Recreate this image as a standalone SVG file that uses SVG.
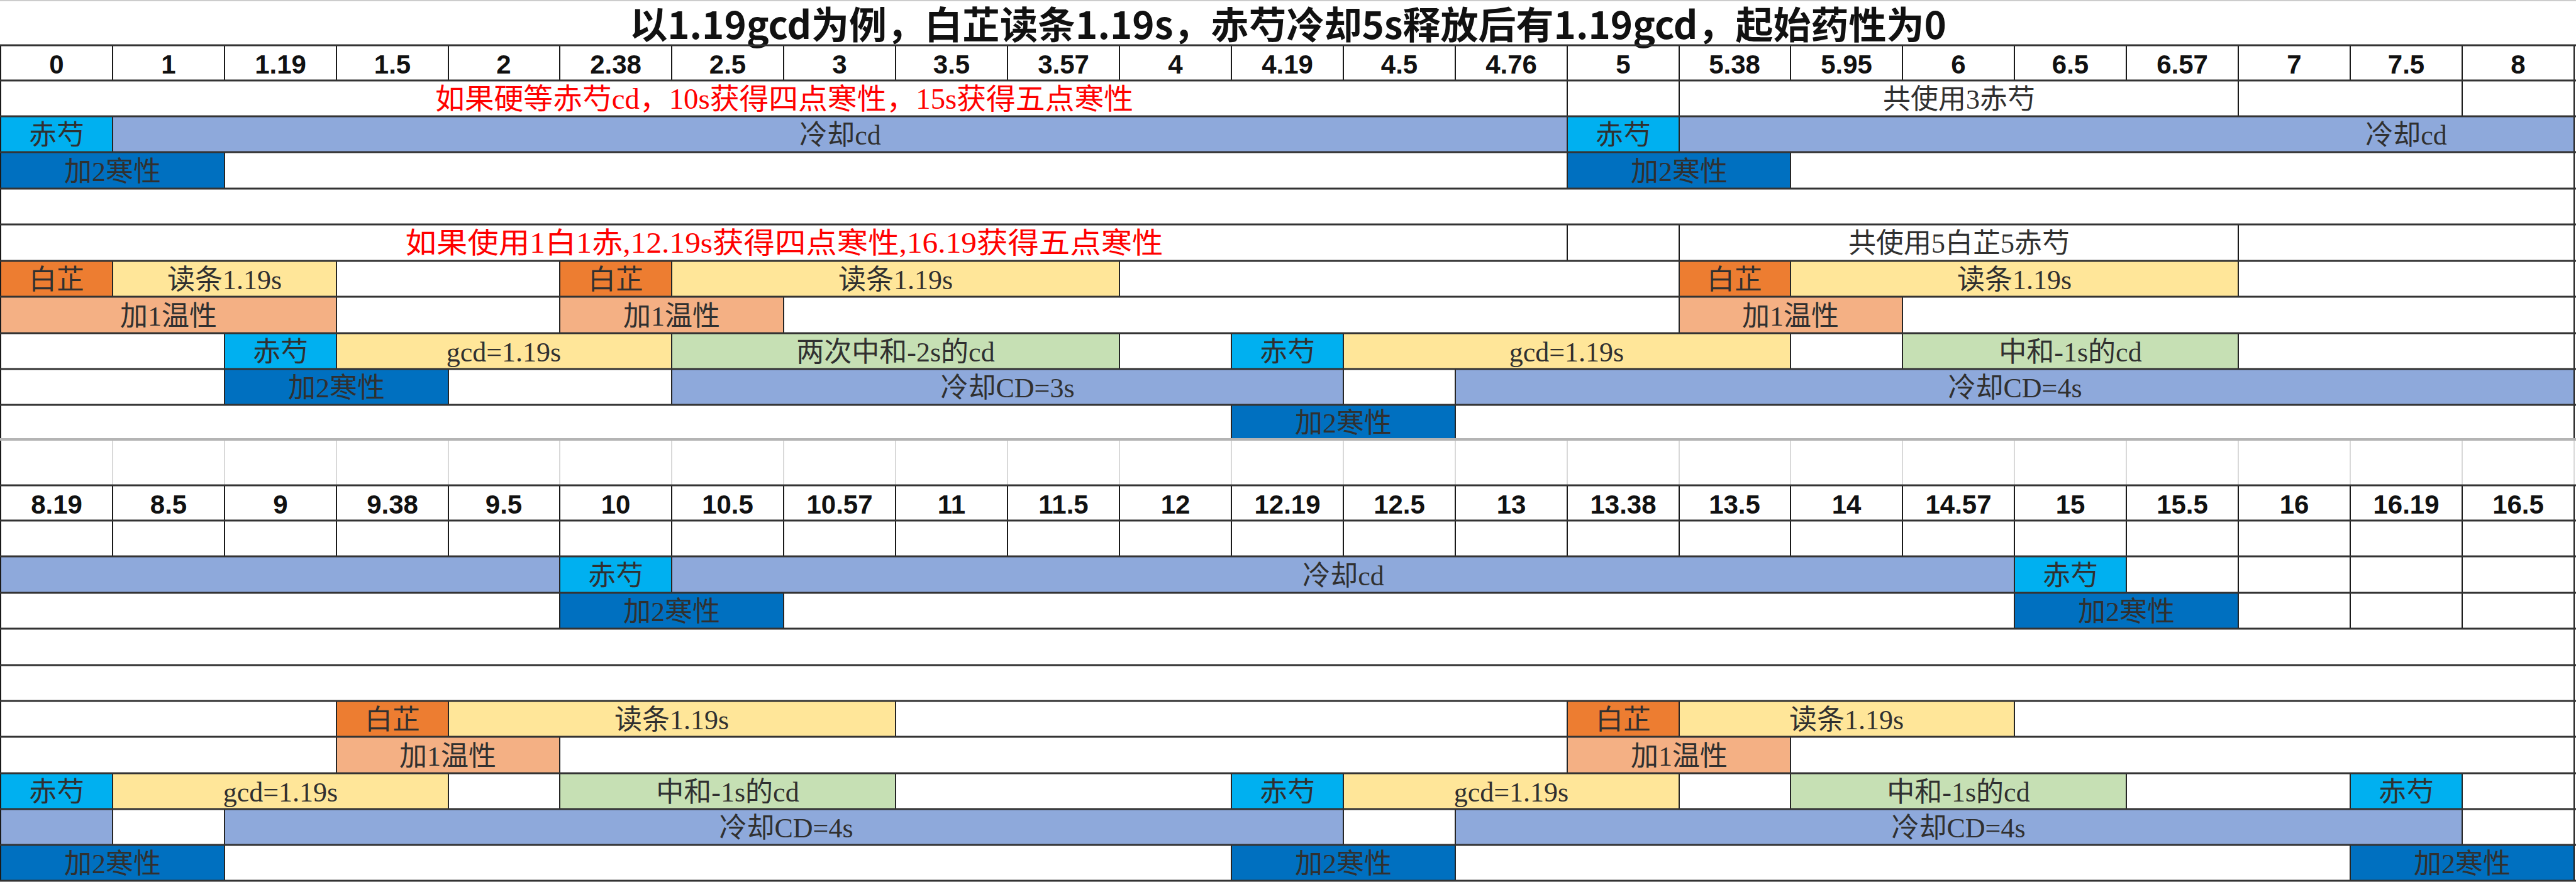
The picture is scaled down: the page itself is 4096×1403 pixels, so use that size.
<svg xmlns="http://www.w3.org/2000/svg" width="4096" height="1403" viewBox="0 0 4096 1403">
<style>
.bg{fill:#FFFFFF}
.c{stroke:#262626;stroke-width:2}
.cy{fill:#00B0F0}.lb{fill:#8EA9DB}.db{fill:#0070C0}.or{fill:#ED7D31}.ye{fill:#FFE699}.sa{fill:#F4B084}.gr{fill:#C6E0B4}
.t{font-family:"Liberation Serif","Noto Sans CJK SC",serif;font-size:44px;fill:#303030;text-anchor:middle}
.h{font-family:"Liberation Sans","Noto Sans CJK SC",sans-serif;font-size:42px;font-weight:bold;fill:#111;text-anchor:middle}
.r{font-family:"Liberation Serif","Noto Sans CJK SC",serif;font-size:46px;fill:#FF0000;text-anchor:middle}
.ti{font-family:"Noto Sans CJK SC","Liberation Sans",sans-serif;font-size:60px;font-weight:bold;fill:#111;text-anchor:middle}
.hl{stroke:#333;stroke-width:3}
.vl{stroke:#1a1a1a;stroke-width:2}
.gl{stroke:#D9D9D9;stroke-width:2}
</style>
<rect class="bg" x="0" y="0" width="4096" height="1403"/>
<line x1="0" y1="1" x2="4096" y2="1" stroke="#CCCCCC" stroke-width="2"/>
<g id="title"><text class="ti" x="2048" y="62">以1.19gcd为例，白芷读条1.19s，赤芍冷却5s释放后有1.19gcd，起始药性为0</text></g>

<!-- ===== TOP SECTION cells ===== -->
<g id="top-r3">
<rect class="c cy" x="1" y="185" width="178" height="57"/><text class="t" x="90" y="230">赤芍</text>
<rect class="c lb" x="179" y="185" width="2313" height="57"/><text class="t" x="1336" y="230">冷却cd</text>
<rect class="c cy" x="2492" y="185" width="178" height="57"/><text class="t" x="2581" y="230">赤芍</text>
<rect class="c lb" x="2670" y="185" width="1423" height="57"/><text class="t" x="3826" y="230">冷却cd</text>
</g>
<g id="top-r4">
<rect class="c db" x="1" y="242" width="356" height="58"/><text class="t" x="179" y="288">加2寒性</text>
<rect class="c db" x="2492" y="242" width="355" height="58"/><text class="t" x="2670" y="288">加2寒性</text>
</g>
<g id="top-r7">
<rect class="c or" x="1" y="415" width="178" height="57"/><text class="t" x="90" y="460">白芷</text>
<rect class="c ye" x="179" y="415" width="356" height="57"/><text class="t" x="357" y="460">读条1.19s</text>
<rect class="c or" x="890" y="415" width="178" height="57"/><text class="t" x="979" y="460">白芷</text>
<rect class="c ye" x="1068" y="415" width="712" height="57"/><text class="t" x="1424" y="460">读条1.19s</text>
<rect class="c or" x="2670" y="415" width="177" height="57"/><text class="t" x="2758" y="460">白芷</text>
<rect class="c ye" x="2847" y="415" width="712" height="57"/><text class="t" x="3203" y="460">读条1.19s</text>
</g>
<g id="top-r8">
<rect class="c sa" x="1" y="472" width="534" height="58"/><text class="t" x="268" y="518">加1温性</text>
<rect class="c sa" x="890" y="472" width="356" height="58"/><text class="t" x="1068" y="518">加1温性</text>
<rect class="c sa" x="2670" y="472" width="355" height="58"/><text class="t" x="2847" y="518">加1温性</text>
</g>
<g id="top-r9">
<rect class="c cy" x="357" y="530" width="178" height="57"/><text class="t" x="446" y="575">赤芍</text>
<rect class="c ye" x="535" y="530" width="533" height="57"/><text class="t" x="801" y="575">gcd=1.19s</text>
<rect class="c gr" x="1068" y="530" width="712" height="57"/><text class="t" x="1424" y="575">两次中和-2s的cd</text>
<rect class="c cy" x="1958" y="530" width="178" height="57"/><text class="t" x="2047" y="575">赤芍</text>
<rect class="c ye" x="2136" y="530" width="711" height="57"/><text class="t" x="2491" y="575">gcd=1.19s</text>
<rect class="c gr" x="3025" y="530" width="534" height="57"/><text class="t" x="3292" y="575">中和-1s的cd</text>
</g>
<g id="top-r10">
<rect class="c db" x="357" y="587" width="356" height="57"/><text class="t" x="535" y="632">加2寒性</text>
<rect class="c lb" x="1068" y="587" width="1068" height="57"/><text class="t" x="1602" y="632">冷却CD=3s</text>
<rect class="c lb" x="2314" y="587" width="1779" height="57"/><text class="t" x="3204" y="632">冷却CD=4s</text>
</g>
<g id="top-r11">
<rect class="c db" x="1958" y="644" width="356" height="56"/><text class="t" x="2136" y="688">加2寒性</text>
</g>

<!-- ===== BOTTOM SECTION cells ===== -->
<g id="bot-r14">
<rect class="c lb" x="1" y="885" width="889" height="58"/>
<rect class="c cy" x="890" y="885" width="178" height="58"/><text class="t" x="979" y="931">赤芍</text>
<rect class="c lb" x="1068" y="885" width="2135" height="58"/><text class="t" x="2136" y="931">冷却cd</text>
<rect class="c cy" x="3203" y="885" width="178" height="58"/><text class="t" x="3292" y="931">赤芍</text>
</g>
<g id="bot-r15">
<rect class="c db" x="890" y="943" width="356" height="57"/><text class="t" x="1068" y="988">加2寒性</text>
<rect class="c db" x="3203" y="943" width="356" height="57"/><text class="t" x="3381" y="988">加2寒性</text>
</g>
<g id="bot-r18">
<rect class="c or" x="535" y="1115" width="178" height="57"/><text class="t" x="624" y="1160">白芷</text>
<rect class="c ye" x="713" y="1115" width="711" height="57"/><text class="t" x="1068" y="1160">读条1.19s</text>
<rect class="c or" x="2492" y="1115" width="178" height="57"/><text class="t" x="2581" y="1160">白芷</text>
<rect class="c ye" x="2670" y="1115" width="533" height="57"/><text class="t" x="2936" y="1160">读条1.19s</text>
</g>
<g id="bot-r19">
<rect class="c sa" x="535" y="1172" width="355" height="58"/><text class="t" x="712" y="1218">加1温性</text>
<rect class="c sa" x="2492" y="1172" width="355" height="58"/><text class="t" x="2670" y="1218">加1温性</text>
</g>
<g id="bot-r20">
<rect class="c cy" x="1" y="1230" width="178" height="57"/><text class="t" x="90" y="1275">赤芍</text>
<rect class="c ye" x="179" y="1230" width="534" height="57"/><text class="t" x="446" y="1275">gcd=1.19s</text>
<rect class="c gr" x="890" y="1230" width="534" height="57"/><text class="t" x="1157" y="1275">中和-1s的cd</text>
<rect class="c cy" x="1958" y="1230" width="178" height="57"/><text class="t" x="2047" y="1275">赤芍</text>
<rect class="c ye" x="2136" y="1230" width="534" height="57"/><text class="t" x="2403" y="1275">gcd=1.19s</text>
<rect class="c gr" x="2847" y="1230" width="534" height="57"/><text class="t" x="3114" y="1275">中和-1s的cd</text>
<rect class="c cy" x="3737" y="1230" width="178" height="57"/><text class="t" x="3826" y="1275">赤芍</text>
</g>
<g id="bot-r21">
<rect class="c lb" x="1" y="1287" width="178" height="57"/>
<rect class="c lb" x="357" y="1287" width="1779" height="57"/><text class="t" x="1250" y="1332">冷却CD=4s</text>
<rect class="c lb" x="2314" y="1287" width="1601" height="57"/><text class="t" x="3114" y="1332">冷却CD=4s</text>
</g>
<g id="bot-r22">
<rect class="c db" x="1" y="1344" width="356" height="57"/><text class="t" x="179" y="1389">加2寒性</text>
<rect class="c db" x="1958" y="1344" width="356" height="57"/><text class="t" x="2136" y="1389">加2寒性</text>
<rect class="c db" x="3737" y="1344" width="356" height="57"/><text class="t" x="3915" y="1389">加2寒性</text>
</g>

<!-- notes -->
<g id="note-top-1">
<text class="r" x="1247" y="173" textLength="1110" lengthAdjust="spacingAndGlyphs">如果硬等赤芍cd，10s获得四点寒性，15s获得五点寒性</text>
<text class="t" x="3115" y="173">共使用3赤芍</text>
</g>
<g id="note-top-2">
<text class="r" x="1247" y="402" textLength="1205" lengthAdjust="spacingAndGlyphs">如果使用1白1赤,12.19s获得四点寒性,16.19获得五点寒性</text>
<text class="t" x="3115" y="402">共使用5白芷5赤芍</text>
</g>

<!-- header labels -->
<g id="header-top">
<text class="h" x="90" y="117">0</text><text class="h" x="268" y="117">1</text><text class="h" x="446" y="117">1.19</text><text class="h" x="624" y="117">1.5</text><text class="h" x="801" y="117">2</text><text class="h" x="979" y="117">2.38</text><text class="h" x="1157" y="117">2.5</text><text class="h" x="1335" y="117">3</text><text class="h" x="1513" y="117">3.5</text><text class="h" x="1691" y="117">3.57</text><text class="h" x="1869" y="117">4</text><text class="h" x="2047" y="117">4.19</text><text class="h" x="2225" y="117">4.5</text><text class="h" x="2403" y="117">4.76</text><text class="h" x="2581" y="117">5</text><text class="h" x="2758" y="117">5.38</text><text class="h" x="2936" y="117">5.95</text><text class="h" x="3114" y="117">6</text><text class="h" x="3292" y="117">6.5</text><text class="h" x="3470" y="117">6.57</text><text class="h" x="3648" y="117">7</text><text class="h" x="3826" y="117">7.5</text><text class="h" x="4004" y="117">8</text>
</g>
<g id="header-bottom">
<text class="h" x="90" y="817">8.19</text><text class="h" x="268" y="817">8.5</text><text class="h" x="446" y="817">9</text><text class="h" x="624" y="817">9.38</text><text class="h" x="801" y="817">9.5</text><text class="h" x="979" y="817">10</text><text class="h" x="1157" y="817">10.5</text><text class="h" x="1335" y="817">10.57</text><text class="h" x="1513" y="817">11</text><text class="h" x="1691" y="817">11.5</text><text class="h" x="1869" y="817">12</text><text class="h" x="2047" y="817">12.19</text><text class="h" x="2225" y="817">12.5</text><text class="h" x="2403" y="817">13</text><text class="h" x="2581" y="817">13.38</text><text class="h" x="2758" y="817">13.5</text><text class="h" x="2936" y="817">14</text><text class="h" x="3114" y="817">14.57</text><text class="h" x="3292" y="817">15</text><text class="h" x="3470" y="817">15.5</text><text class="h" x="3648" y="817">16</text><text class="h" x="3826" y="817">16.19</text><text class="h" x="4004" y="817">16.5</text>
</g>

<!-- grid lines -->
<g id="grid">
<g class="gl">
<line x1="179" y1="700" x2="179" y2="772"/><line x1="357" y1="700" x2="357" y2="772"/><line x1="535" y1="700" x2="535" y2="772"/><line x1="713" y1="700" x2="713" y2="772"/><line x1="890" y1="700" x2="890" y2="772"/><line x1="1068" y1="700" x2="1068" y2="772"/><line x1="1246" y1="700" x2="1246" y2="772"/><line x1="1424" y1="700" x2="1424" y2="772"/><line x1="1602" y1="700" x2="1602" y2="772"/><line x1="1780" y1="700" x2="1780" y2="772"/><line x1="1958" y1="700" x2="1958" y2="772"/><line x1="2136" y1="700" x2="2136" y2="772"/><line x1="2314" y1="700" x2="2314" y2="772"/><line x1="2492" y1="700" x2="2492" y2="772"/><line x1="2670" y1="700" x2="2670" y2="772"/><line x1="2847" y1="700" x2="2847" y2="772"/><line x1="3025" y1="700" x2="3025" y2="772"/><line x1="3203" y1="700" x2="3203" y2="772"/><line x1="3381" y1="700" x2="3381" y2="772"/><line x1="3559" y1="700" x2="3559" y2="772"/><line x1="3737" y1="700" x2="3737" y2="772"/><line x1="3915" y1="700" x2="3915" y2="772"/><line x1="4093" y1="700" x2="4093" y2="772"/>
</g>
<g class="vl">
<line x1="1" y1="72" x2="1" y2="1402"/><line x1="4093" y1="72" x2="4093" y2="700"/><line x1="4093" y1="772" x2="4093" y2="1402"/>
<path d="M179 72V128M357 72V128M535 72V128M713 72V128M890 72V128M1068 72V128M1246 72V128M1424 72V128M1602 72V128M1780 72V128M1958 72V128M2136 72V128M2314 72V128M2492 72V128M2670 72V128M2847 72V128M3025 72V128M3203 72V128M3381 72V128M3559 72V128M3737 72V128M3915 72V128"/>
<path d="M179 772V885M357 772V885M535 772V885M713 772V885M890 772V885M1068 772V885M1246 772V885M1424 772V885M1602 772V885M1780 772V885M1958 772V885M2136 772V885M2314 772V885M2492 772V885M2670 772V885M2847 772V885M3025 772V885M3203 772V885M3381 772V885M3559 772V885M3737 772V885M3915 772V885"/>
<path d="M2492 128V185M2670 128V185M3559 128V185M3915 128V185"/>
<path d="M2492 357V415M2670 357V415M3559 357V415"/>
<path d="M3559 885V943M3737 885V1000M3915 885V1000"/>
</g>
<g class="hl">
<line x1="0" y1="72" x2="4096" y2="72"/><line x1="0" y1="128" x2="4096" y2="128"/><line x1="0" y1="185" x2="4096" y2="185"/><line x1="0" y1="242" x2="4096" y2="242"/><line x1="0" y1="300" x2="4096" y2="300"/><line x1="0" y1="357" x2="4096" y2="357"/><line x1="0" y1="415" x2="4096" y2="415"/><line x1="0" y1="472" x2="4096" y2="472"/><line x1="0" y1="530" x2="4096" y2="530"/><line x1="0" y1="587" x2="4096" y2="587"/><line x1="0" y1="644" x2="4096" y2="644"/>
<line x1="0" y1="772" x2="4096" y2="772"/><line x1="0" y1="828" x2="4096" y2="828"/><line x1="0" y1="885" x2="4096" y2="885"/><line x1="0" y1="943" x2="4096" y2="943"/><line x1="0" y1="1000" x2="4096" y2="1000"/><line x1="0" y1="1058" x2="4096" y2="1058"/><line x1="0" y1="1115" x2="4096" y2="1115"/><line x1="0" y1="1172" x2="4096" y2="1172"/><line x1="0" y1="1230" x2="4096" y2="1230"/><line x1="0" y1="1287" x2="4096" y2="1287"/><line x1="0" y1="1344" x2="4096" y2="1344"/><line x1="0" y1="1401" x2="4096" y2="1401"/>
</g>
<line x1="0" y1="699" x2="4096" y2="699" stroke="#B4B4B4" stroke-width="4"/>
</g>
</svg>
